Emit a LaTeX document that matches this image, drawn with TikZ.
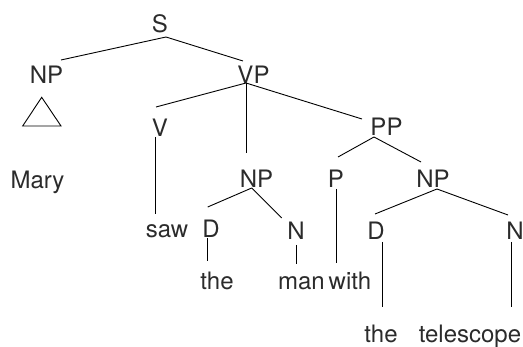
\documentclass[tikz,border=0pt]{standalone}
\usepackage{fontspec}
\setmainfont{TeX Gyre Heros}
\usetikzlibrary{calc}
\definecolor{labelgray}{HTML}{2B2B2B}
\begin{document}
\begin{tikzpicture}[x=1pt,y=-1pt,
  lbl/.style={inner sep=0pt, anchor=base, text=labelgray,
    font=\fontsize{24}{28}\selectfont},
  branch/.style={draw=black, line width=0.9pt}]
\useasboundingbox (0,0) rectangle (523,347);

% labels of the tree
\node[lbl] (S)    at (160,33)   {S};
\node[lbl] (NPa)  at (46.5,84)  {NP};
\node[lbl] (VP)   at (253.5,84) {VP};
\node[lbl] (V)    at (160,137)  {V};
\node[lbl] (PP)   at (386.5,136) {PP};
\node[lbl] (Mary) at (37.5,189) {Mary};
\node[lbl] (NPb)  at (256.5,188) {NP};
\node[lbl] (P)    at (336,188)  {P};
\node[lbl] (NPc)  at (433,188)  {NP};
\node[lbl] (saw)  at (167,238)  {saw};
\node[lbl] (Da)   at (211,238)  {D};
\node[lbl] (Na)   at (296,240)  {N};
\node[lbl] (Db)   at (376,240)  {D};
\node[lbl] (Nb)   at (515,240)  {N};
\node[lbl] (thea) at (217,290)  {the};
\node[lbl] (man)  at (301.5,290) {man};
\node[lbl] (with) at (350,290)  {with};
\node[lbl] (theb) at (381,343)  {the};
\node[lbl] (tele) at (470,343)  {telescope};

% branches
\draw[branch] ($(S.base)+(6,4)$) -- ($(NPa.base)+(14.5,-24)$);
\draw[branch] ($(S.base)+(6,4)$) -- ($(VP.base)+(-10.5,-23)$);
\draw[branch] ($(VP.base)+(-7.5,-1)$) -- ($(V.base)+(-4,-30)$);
\draw[branch] ($(VP.base)+(-7.5,-1)$) -- ($(NPb.base)+(-10.5,-35)$);
\draw[branch] ($(VP.base)+(-7.5,-1)$) -- ($(PP.base)+(-24.5,-17)$);
\draw[branch] ($(V.base)+(-5,0)$) -- ($(saw.base)+(-12,-24)$);
\draw[branch] ($(NPb.base)+(-4.8,0)$) -- ($(Da.base)+(-3.3,-31)$);
\draw[branch] ($(NPb.base)+(-4.8,0)$) -- ($(Na.base)+(-14.3,-22)$);
\draw[branch] ($(Da.base)+(-4,0)$) -- ($(thea.base)+(-10,-29)$);
\draw[branch] ($(Na.base)+(0.7,5)$) -- ($(man.base)+(-4.8,-26)$);
\draw[branch] ($(PP.base)+(-12.5,1)$) -- ($(P.base)+(2,-31)$);
\draw[branch] ($(PP.base)+(-12.5,1)$) -- ($(NPc.base)+(-12,-26)$);
\draw[branch] ($(P.base)+(0.7,1)$) -- ($(with.base)+(-13.3,-27)$);
\draw[branch] ($(NPc.base)+(4,1)$) -- ($(Db.base)+(-1,-26)$);
\draw[branch] ($(NPc.base)+(4,1)$) -- ($(Nb.base)+(-7,-25)$);
\draw[branch] ($(Db.base)+(6.7,2)$) -- ($(theb.base)+(1.7,-36)$);
\draw[branch] ($(Nb.base)+(-3.3,2)$) -- ($(tele.base)+(41.7,-36)$);

% roof standing for the unanalysed NP
\draw[branch, line join=miter] ($(NPa.base)+(-4.8,13.3)$) -- ($(NPa.base)+(-23.8,42)$)
  -- ($(NPa.base)+(14.5,42)$) -- cycle;
\end{tikzpicture}
\end{document}
